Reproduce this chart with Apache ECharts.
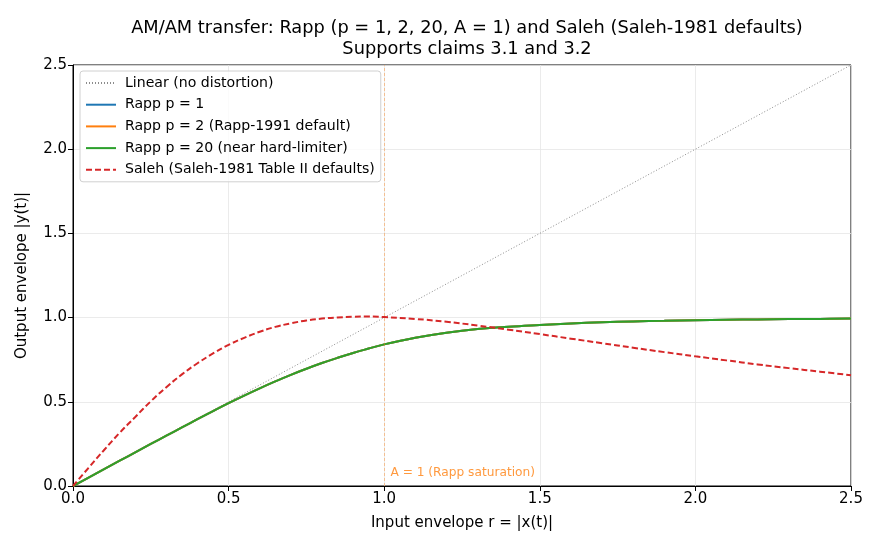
<!DOCTYPE html>
<html>
<head>
<meta charset="utf-8">
<script src="https://cdn.jsdelivr.net/npm/echarts@6/dist/echarts.min.js"></script>
<style>html,body{margin:0;padding:0;background:#fff}#c{width:880px;height:550px}</style>
</head>
<body>
<div id="c"></div>
<script>
// Input envelope samples
const rValues = [0,0.05,0.1,0.15,0.2,0.25,0.3,0.35,0.4,0.45,0.5,0.55,0.6,0.65,0.7,0.75,0.8,0.85,0.9,0.95,1.0,1.1,1.2,1.3,1.4,1.5,1.6,1.7,1.8,1.9,2.0,2.1,2.2,2.3,2.4,2.5];
// (the three Rapp curves coincide in the reference)
const rappP1  = [0,0.050,0.100,0.150,0.200,0.250,0.299,0.348,0.397,0.445,0.492,0.537,0.580,0.621,0.660,0.696,0.730,0.761,0.790,0.816,0.841,0.880,0.910,0.932,0.946,0.956,0.965,0.972,0.977,0.981,0.985,0.987,0.989,0.991,0.992,0.994];
const rappP2  = [0,0.050,0.100,0.150,0.200,0.250,0.299,0.348,0.397,0.445,0.492,0.537,0.580,0.621,0.660,0.696,0.730,0.761,0.790,0.816,0.841,0.880,0.910,0.932,0.946,0.956,0.965,0.972,0.977,0.981,0.985,0.987,0.989,0.991,0.992,0.994];
const rappP20 = [0,0.050,0.100,0.150,0.200,0.250,0.299,0.348,0.397,0.445,0.492,0.537,0.580,0.621,0.660,0.696,0.730,0.761,0.790,0.816,0.841,0.880,0.910,0.932,0.946,0.956,0.965,0.972,0.977,0.981,0.985,0.987,0.989,0.991,0.992,0.994];
const saleh   = [0,0.108,0.214,0.316,0.410,0.503,0.587,0.663,0.729,0.787,0.838,0.880,0.916,0.945,0.966,0.983,0.994,1.001,1.005,1.006,1.003,0.992,0.975,0.953,0.928,0.902,0.875,0.848,0.821,0.795,0.770,0.746,0.722,0.700,0.679,0.658];
const linearX = [0, 2.5];
const linearY = [0, 2.5];
const satLevel = 1.0;
const annotationPos = [1.02, 0.08];

const pairs = (xs, ys) => xs.map((x, i) => [x, ys[i]]);
const font = 'DejaVu Sans';

const chart = echarts.init(document.getElementById('c'), null, {renderer: 'canvas'});
chart.setOption({
  animation: false,
  backgroundColor: '#fff',
  textStyle: {fontFamily: font},
  title: {
    text: 'AM/AM transfer: Rapp (p = 1, 2, 20, A = 1) and Saleh (Saleh-1981 defaults)\nSupports claims 3.1 and 3.2',
    left: 462, top: 13, textAlign: 'center',
    textStyle: {fontFamily: font, fontSize: 17.8, fontWeight: 'normal', color: '#000', lineHeight: 21}
  },
  grid: {left: 73, right: 29, top: 65, bottom: 64, show: true, borderColor: '#000', borderWidth: 1, backgroundColor: 'transparent'},
  legend: {
    orient: 'vertical', left: 80, top: 71,
    padding: [5, 6, 5, 5], itemGap: 7.7, itemWidth: 30, itemHeight: 14,
    borderColor: '#d0d0d0', borderWidth: 1, borderRadius: 3, backgroundColor: 'rgba(255,255,255,0.8)',
    itemStyle: {opacity: 0, color: 'transparent', borderWidth: 0},
    textStyle: {fontFamily: font, fontSize: 14.1, color: '#000', padding: [0,0,0,4]},
    data: ['Linear (no distortion)', 'Rapp p = 1', 'Rapp p = 2 (Rapp-1991 default)', 'Rapp p = 20 (near hard-limiter)', 'Saleh (Saleh-1981 Table II defaults)']
  },
  xAxis: {
    type: 'value', min: 0, max: 2.5, interval: 0.5,
    name: 'Input envelope r = |x(t)|', nameLocation: 'middle', nameGap: 30,
    nameTextStyle: {fontFamily: font, fontSize: 15, color: '#000'},
    axisLine: {show: true, lineStyle: {color: '#000', width: 1}},
    axisTick: {show: true, length: 5, lineStyle: {color: '#000'}},
    axisLabel: {fontFamily: font, fontSize: 15, color: '#000', margin: 6, formatter: v => v.toFixed(1)},
    splitLine: {show: true, lineStyle: {color: '#e6e6e6', width: 0.8}}
  },
  yAxis: {
    type: 'value', min: 0, max: 2.5, interval: 0.5,
    name: 'Output envelope |y(t)|', nameLocation: 'middle', nameGap: 43, nameRotate: 90,
    nameTextStyle: {fontFamily: font, fontSize: 15, color: '#000'},
    axisLine: {show: true, lineStyle: {color: '#000', width: 1}},
    axisTick: {show: true, length: 5, lineStyle: {color: '#000'}},
    axisLabel: {fontFamily: font, fontSize: 15, color: '#000', margin: 6, formatter: v => v.toFixed(1)},
    splitLine: {show: true, lineStyle: {color: '#e6e6e6', width: 0.8}}
  },
  series: [
    {
      name: 'Linear (no distortion)', type: 'line', symbol: 'none',
      data: pairs(linearX, linearY),
      lineStyle: {color: 'rgba(128,128,128,0.9)', width: 1, type: [1, 2]},
      itemStyle: {color: 'rgba(128,128,128,0.9)'},
      markLine: {
        silent: true, symbol: 'none', label: {show: false},
        lineStyle: {color: 'rgba(255,127,14,0.5)', width: 0.8, type: [3, 2]},
        data: [{xAxis: satLevel}]
      },
      markPoint: {
        symbol: 'circle', symbolSize: 0,
        label: {show: true, position: 'right', distance: 0, formatter: 'A = 1 (Rapp saturation)',
          fontFamily: font, fontSize: 12.2, color: 'rgba(255,127,14,0.8)'},
        data: [{coord: annotationPos}]
      }
    },
    {
      name: 'Rapp p = 1', type: 'line', symbol: 'none', smooth: 0.4,
      data: pairs(rValues, rappP1),
      lineStyle: {color: '#1f77b4', width: 2}, itemStyle: {color: '#1f77b4'}
    },
    {
      name: 'Rapp p = 2 (Rapp-1991 default)', type: 'line', symbol: 'none', smooth: 0.4,
      data: pairs(rValues, rappP2),
      lineStyle: {color: '#ff7f0e', width: 2}, itemStyle: {color: '#ff7f0e'}
    },
    {
      name: 'Rapp p = 20 (near hard-limiter)', type: 'line', symbol: 'none', smooth: 0.4,
      data: pairs(rValues, rappP20),
      lineStyle: {color: '#2ca02c', width: 2}, itemStyle: {color: '#2ca02c'}
    },
    {
      name: 'Saleh (Saleh-1981 Table II defaults)', type: 'line', symbol: 'none', smooth: 0.4,
      data: pairs(rValues, saleh),
      lineStyle: {color: '#d62728', width: 2, type: [6, 3]}, itemStyle: {color: '#d62728'}
    }
  ]
});
</script>
</body>
</html>
